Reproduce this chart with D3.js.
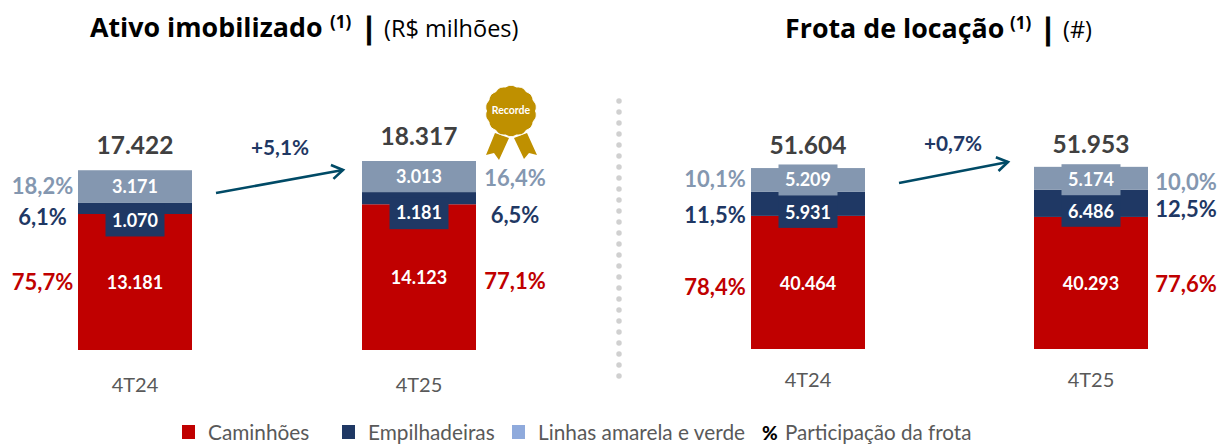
<!DOCTYPE html>
<html><head><meta charset="utf-8">
<script src="https://cdn.jsdelivr.net/npm/d3@7/dist/d3.min.js"></script>
<style>html,body{margin:0;background:#fff}svg{display:block}text{font-family:Lato,sans-serif}</style>
</head><body><div id="c"></div>
<script>
const periods = ["4T24","4T25"];
// Ativo imobilizado (R$ milhões)
const ativoCaminhoes = [13181,14123];
const ativoEmpilhadeiras = [1070,1181];
const ativoLinhas = [3171,3013];
const ativoTotais = ["17.422","18.317"];
const ativoLabels = [["13.181","14.123"],["1.070","1.181"],["3.171","3.013"]];
const ativoPct = [["75,7%","77,1%"],["6,1%","6,5%"],["18,2%","16,4%"]];
const ativoVar = "+5,1%";
// Frota de locação: segment lengths as drawn in the picture (they are not to scale with their printed labels)
const frotaCaminhoes = [38000,37700];
const frotaEmpilhadeiras = [6850,7800];
const frotaLinhas = [6800,6500];
const frotaTotais = ["51.604","51.953"];
const frotaLabels = [["40.464","40.293"],["5.931","6.486"],["5.209","5.174"]];
const frotaPct = [["78,4%","77,6%"],["11,5%","12,5%"],["10,1%","10,0%"]];
const frotaVar = "+0,7%";
const legendItems = ["Caminhões","Empilhadeiras","Linhas amarela e verde"];
const C = {red:"#c00000",navy:"#1f3864",gray:"#8497b0",legendLight:"#8faadc",text:"#404040",arrow:"#004a66",gold:"#bf9000"};

const svg = d3.select("#c").append("svg").attr("width",1219).attr("height",445);

function panel(o){
  const x = d3.scalePoint().domain(periods).range(o.xr);
  const y = d3.scaleLinear().domain([0,o.maxV]).range([o.base,o.base-o.maxH]);
  const series = [o.a,o.b,o.c];
  const colors = [C.red,C.navy,C.gray];
  const g = svg.append("g");
  const stack = d3.stack().keys([0,1,2]).value((d,k)=>series[k][d])(periods.map((_,i)=>i));
  stack.forEach((s,k)=>{
    g.selectAll(null).data(s).join("rect")
      .attr("x",(d,i)=>x(periods[i])-57).attr("width",114)
      .attr("y",d=>y(d[1])).attr("height",d=>y(d[0])-y(d[1]))
      .attr("fill",colors[k]);
  });
  stack.forEach((s,k)=>{
    s.forEach((d,i)=>{
      const cx=x(periods[i]);
      const cy=(y(d[0])+y(d[1]))/2+o.labelDy[k][i];
      if(o.patch[k]){
        g.append("rect").attr("x",cx-29.5).attr("width",59).attr("y",cy-o.patch[k]/2).attr("height",o.patch[k]).attr("fill",colors[k]);
      }
    });
  });
  stack.forEach((s,k)=>{
    s.forEach((d,i)=>{
      const cx=x(periods[i]);
      const cy=(y(d[0])+y(d[1]))/2+o.labelDy[k][i];
      g.append("text").attr("x",cx).attr("y",cy+6.3).attr("text-anchor","middle")
        .attr("fill","#fff").attr("font-weight",700).attr("font-size",18).text(o.labels[k][i]);
      g.append("text").attr("x",cx+o.pctOff[i]).attr("y",o.pctY[k][i]+7.5)
        .attr("text-anchor","middle").attr("fill",colors[k])
        .attr("font-weight",700).attr("font-size",22).text(o.pct[k][i]);
    });
  });
  periods.forEach((p,i)=>{
    const top=y(series[0][i]+series[1][i]+series[2][i]);
    g.append("text").attr("x",x(p)).attr("y",top+o.totDy).attr("text-anchor","middle")
      .attr("fill",C.text).attr("font-weight",700).attr("font-size",24.5).text(o.tot[i]);
    g.append("text").attr("x",x(p)).attr("y",o.base+o.catDy).attr("text-anchor","middle")
      .attr("fill","#595959").attr("font-size",20).text(p);
  });
  // arrow
  const ax0=x(periods[0])+o.arrow[0], ax1=x(periods[1])+o.arrow[1];
  g.append("line").attr("x1",ax0).attr("y1",o.arrow[2]).attr("x2",ax1).attr("y2",o.arrow[3])
    .attr("stroke",C.arrow).attr("stroke-width",2.6);
  const ang=Math.atan2(o.arrow[3]-o.arrow[2],ax1-ax0)*180/Math.PI;
  g.append("path").attr("transform",`translate(${ax1},${o.arrow[3]}) rotate(${ang})`)
    .attr("d","M-11,-7L0,0L-11,7").attr("fill","none").attr("stroke",C.arrow).attr("stroke-width",2.6);
  g.append("text").attr("x",o.varX).attr("y",o.varY).attr("text-anchor","middle")
    .attr("fill",C.navy).attr("font-weight",700).attr("font-size",20.8).text(o.varT);
}

panel({xr:[135,419],base:350,maxV:18317,maxH:189,a:ativoCaminhoes,b:ativoEmpilhadeiras,c:ativoLinhas,
  labels:ativoLabels,pct:ativoPct,tot:ativoTotais,patch:[0,32,0],labelDy:[[1,1],[12,15],[0,0]],
  pctOff:[-92.5,96],pctY:[[282,281],[217,215],[186,178]],totDy:-16,catDy:42,
  arrow:[81,-76,193,170],varX:280,varY:155,varT:ativoVar});
panel({xr:[808,1091],base:349,maxV:51953,maxH:182,a:frotaCaminhoes,b:frotaEmpilhadeiras,c:frotaLinhas,
  labels:frotaLabels,pct:frotaPct,tot:frotaTotais,patch:[0,30,31],labelDy:[[1,1],[9,8.5],[0,1.5]],
  pctOff:[-93,95],pctY:[[287,284],[215,209],[179,182]],totDy:-14,catDy:38,
  arrow:[91,-83,183,162],varX:953,varY:151,varT:frotaVar});

// Titles
function title(y,main,x0,sup,x1,x2,unit,x3){
  const t=svg.append("text").attr("y",y).attr("fill","#000").style("font-family","'Open Sans',sans-serif");
  t.append("tspan").attr("x",x0).attr("font-weight",700).attr("font-size",26.8).text(main);
  t.append("tspan").attr("x",x1).attr("font-weight",700).attr("font-size",17).attr("dy",-9).text(sup);
  t.append("tspan").attr("x",x2).attr("font-weight",700).attr("font-size",29).attr("dy",10).attr("stroke","#000").attr("stroke-width",0.8).text("|");
  t.append("tspan").attr("x",x3).attr("font-size",23.5).attr("dy",-1).text(unit);
}
title(37,"Ativo imobilizado",90,"(1)",330,361,"(R$ milhões)",384);
title(38,"Frota de locação",785,"(1)",1010,1040,"(#)",1063);

// Divider
svg.append("line").attr("x1",619).attr("x2",619).attr("y1",101).attr("y2",378)
  .attr("stroke","#d0d0d0").attr("stroke-width",5.5).attr("stroke-linecap","round").attr("stroke-dasharray","0 11");

// Medal
const m=svg.append("g").attr("transform","translate(511,111)");
const n=14, pts=d3.range(0,361,3).map(a=>{const r=a*Math.PI/180;const R=24.5+Math.abs(Math.sin(r*n/2))*1.2;return [R*Math.cos(r),R*Math.sin(r)];});
m.append("path").attr("d","M-16,22L-2,27L-12,49L-17,42L-25,44Z M3,27L16,22L26,44L18,42L13,48Z").attr("fill",C.gold);
m.append("path").attr("d",d3.line()(pts)+"Z").attr("fill",C.gold).attr("stroke","#fff").attr("stroke-width",1);
m.append("text").attr("y",3).attr("text-anchor","middle").attr("fill","#fff").attr("font-size",10.5).attr("font-weight",700).text("Recorde");

// Legend
const lg=svg.append("g");
[[182,208,C.red],[342,368,C.navy],[512,538,C.legendLight]].forEach((d,i)=>{
  lg.append("rect").attr("x",d[0]).attr("y",425).attr("width",13).attr("height",14).attr("fill",d[2]);
  lg.append("text").attr("x",d[1]).attr("y",440).attr("fill","#595959").attr("font-size",20.8).text(legendItems[i]);
});
lg.append("text").attr("x",762).attr("y",440).attr("fill","#000").attr("font-size",19).attr("font-weight",900).text("%");
lg.append("text").attr("x",785).attr("y",440).attr("fill","#595959").attr("font-size",20.6).text("Participação da frota");
</script></body></html>
